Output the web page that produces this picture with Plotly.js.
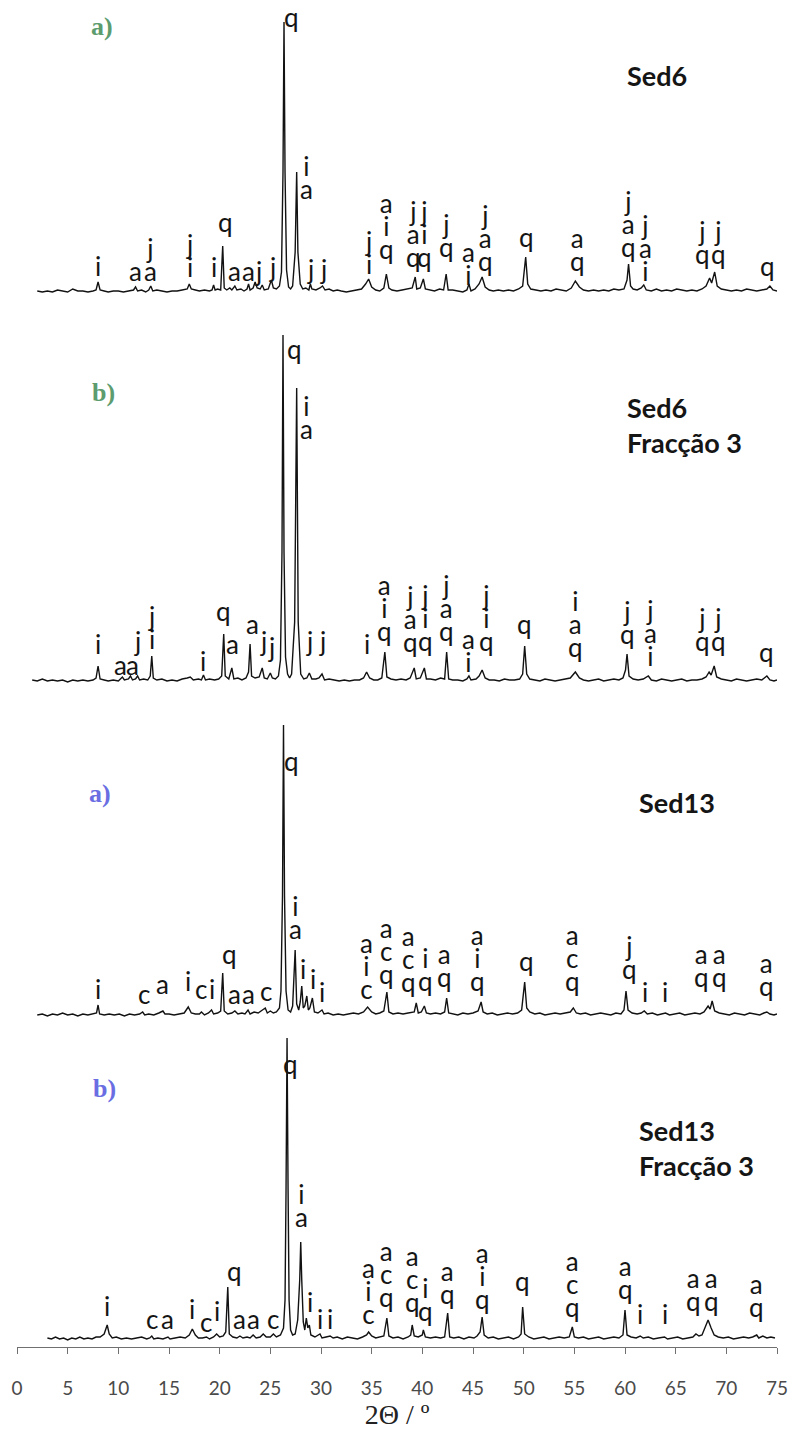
<!DOCTYPE html>
<html>
<head>
<meta charset="utf-8">
<script src="https://cdn.plot.ly/plotly-3.0.1.min.js"></script>
<style>
  html, body { margin: 0; padding: 0; background: #ffffff; }
  #chart { width: 792px; height: 1434px; }
</style>
</head>
<body>
<div id="chart"></div>
<script>
// ---------- Diffractograms: 2θ (degrees) and intensity (a.u.) ----------

// Sed6
const sed6Tt = [
  2.0,2.5,3.0,3.5,4.0,4.5,5.0,5.5,6.0,6.5,7.0,7.5,
  7.8,8.0,8.2,8.6,9.0,9.5,10.0,10.5,11.0,11.5,11.7,11.9,
  12.3,12.7,13.0,13.2,13.4,13.8,14.3,14.8,15.3,15.8,16.3,16.8,
  17.0,17.2,17.6,18.0,18.5,19.0,19.25,19.4,19.55,19.8,20.1,20.3,
  20.45,20.7,21.0,21.2,21.5,21.7,22.1,22.4,22.7,22.85,23.0,23.3,
  23.5,23.7,24.0,24.2,24.4,24.8,25.1,25.3,25.6,25.9,26.1,26.25,
  26.35,26.45,26.6,26.8,27.0,27.2,27.45,27.6,27.72,27.95,28.2,28.5,
  28.8,28.95,29.1,29.5,29.9,30.15,30.4,30.8,31.2,31.6,32.0,32.5,
  33.0,33.5,34.0,34.4,34.7,35.0,35.4,35.8,36.2,36.45,36.7,37.0,
  37.5,38.0,38.5,39.0,39.3,39.45,39.8,40.1,40.3,40.7,41.2,41.7,
  42.1,42.35,42.55,43.0,43.5,44.0,44.4,44.6,44.8,45.2,45.6,45.9,
  46.2,46.6,47.0,47.5,48.0,48.5,49.0,49.5,49.9,50.2,50.4,50.7,
  51.2,51.7,52.2,52.7,53.2,53.7,54.2,54.7,55.1,55.5,55.9,56.4,
  56.9,57.4,57.9,58.4,58.9,59.4,59.9,60.2,60.35,60.55,60.8,61.2,
  61.6,61.85,62.1,62.6,63.1,63.6,64.1,64.6,65.1,65.6,66.1,66.6,
  67.1,67.6,68.0,68.35,68.55,68.85,69.1,69.5,70.0,70.5,71.0,71.5,
  72.0,72.5,73.0,73.5,74.0,74.3,74.6,75.0
];
const sed6I = [
  1,0,1,0,2,1,0,3,1,1,0,1,
  2,10,2,1,0,1,1,0,1,2,5,1,
  2,0,2,6,1,2,1,0,1,1,2,3,
  8,3,2,1,2,1,2,7,2,3,2,46,
  4,2,4,2,6,2,3,1,3,8,2,4,
  10,4,3,7,2,3,12,4,3,6,20,120,
  270,120,22,5,3,6,40,120,40,8,3,4,
  2,8,3,2,4,6,2,3,1,2,1,0,
  1,2,3,8,13,5,2,1,4,18,4,2,
  1,2,3,4,15,3,4,13,3,2,1,3,
  2,18,2,2,1,0,2,8,1,3,8,15,
  5,2,1,2,1,2,1,3,6,35,8,3,
  2,1,2,1,3,2,1,4,11,5,2,1,
  2,1,2,1,3,2,3,12,28,6,3,2,
  4,7,2,1,3,1,2,1,3,2,1,2,
  1,3,6,14,9,20,6,3,2,1,2,1,
  3,2,1,2,3,6,2,1
];

// Sed6, Fracção 3
const sed6fTt = [
  1.5,2.0,2.5,3.0,3.5,4.0,4.5,5.0,5.5,6.0,6.5,7.0,
  7.5,7.8,8.0,8.2,8.6,9.0,9.5,10.0,10.2,10.4,10.6,11.0,
  11.2,11.4,11.7,11.9,12.1,12.5,12.9,13.15,13.3,13.45,13.8,14.3,
  14.8,15.3,15.8,16.3,16.8,17.1,17.4,17.9,18.2,18.4,18.6,19.0,
  19.5,19.9,20.2,20.4,20.55,20.9,21.2,21.4,21.8,22.2,22.6,22.85,
  23.0,23.15,23.5,23.9,24.2,24.4,24.7,25.0,25.2,25.5,25.8,26.0,
  26.15,26.25,26.35,26.5,26.7,26.9,27.1,27.4,27.6,27.75,28.0,28.3,
  28.6,28.85,29.1,29.5,29.8,30.1,30.35,30.8,31.3,31.8,32.3,32.8,
  33.3,33.8,34.2,34.5,34.8,35.2,35.6,36.0,36.3,36.5,36.9,37.4,
  37.9,38.4,38.8,39.2,39.4,39.8,40.2,40.4,40.8,41.3,41.8,42.2,
  42.4,42.6,43.0,43.5,44.0,44.4,44.6,44.8,45.3,45.6,45.9,46.2,
  46.6,47.1,47.6,48.1,48.6,49.1,49.6,49.9,50.1,50.3,50.6,51.1,
  51.6,52.1,52.6,53.1,53.6,54.1,54.6,55.1,55.5,55.9,56.4,56.9,
  57.4,57.9,58.4,58.9,59.4,59.8,60.05,60.2,60.4,60.8,61.3,61.8,
  62.3,62.6,63.1,63.6,64.1,64.6,65.1,65.6,66.1,66.6,67.1,67.6,
  68.0,68.3,68.5,68.8,69.05,69.5,70.0,70.5,71.0,71.5,72.0,72.5,
  73.0,73.5,74.0,74.3,74.7,75.0
];
const sed6fI = [
  2,1,3,1,2,1,2,0,2,1,2,1,
  2,4,16,3,2,1,2,1,3,5,2,3,
  6,2,3,6,2,3,2,6,26,4,2,3,
  1,2,1,3,4,5,2,3,2,7,2,3,
  2,3,6,48,6,3,14,3,4,2,4,10,
  38,6,4,5,14,4,3,9,4,3,6,22,
  130,347,130,25,8,4,8,60,294,60,8,3,
  4,9,3,3,4,8,2,3,2,1,2,1,
  2,2,4,10,4,2,2,4,30,5,3,2,
  3,2,4,14,3,4,14,3,3,2,4,3,
  30,3,2,2,1,3,6,2,3,6,12,4,
  2,2,1,3,2,2,3,8,36,8,3,2,
  1,3,2,1,2,3,4,10,4,2,1,2,
  3,1,2,3,2,4,12,28,6,3,2,3,
  6,2,1,3,2,1,2,3,1,2,2,3,
  5,10,7,16,5,3,2,1,3,2,1,2,
  3,2,6,2,1,2
];

// Sed13
const sed13Tt = [
  2.0,2.5,3.0,3.5,4.0,4.5,5.0,5.5,6.0,6.5,7.0,7.5,
  7.85,8.0,8.15,8.6,9.1,9.6,10.1,10.6,11.1,11.6,12.1,12.4,
  12.6,13.0,13.5,14.0,14.4,14.6,15.0,15.5,16.0,16.5,16.9,17.2,
  17.6,18.0,18.2,18.5,18.9,19.2,19.4,19.8,20.1,20.3,20.45,20.8,
  21.2,21.5,21.8,22.2,22.5,22.8,23.0,23.4,23.8,24.1,24.5,24.7,
  25.0,25.3,25.6,25.9,26.05,26.2,26.3,26.4,26.55,26.75,27.0,27.2,
  27.45,27.6,27.8,27.95,28.1,28.25,28.4,28.6,28.75,28.9,29.15,29.35,
  29.7,30.1,30.3,30.7,31.2,31.7,32.2,32.7,33.2,33.7,34.2,34.6,
  35.0,35.4,35.8,36.2,36.5,36.7,37.1,37.6,38.1,38.6,39.2,39.4,
  39.6,39.9,40.2,40.4,40.8,41.3,41.8,42.2,42.4,42.6,43.0,43.5,
  44.0,44.5,45.0,45.5,45.8,46.0,46.4,46.9,47.4,47.9,48.4,48.9,
  49.4,49.8,50.1,50.3,50.6,51.1,51.6,52.1,52.6,53.1,53.6,54.1,
  54.6,54.9,55.2,55.6,56.1,56.6,57.1,57.6,58.1,58.6,59.1,59.6,
  59.9,60.1,60.3,60.7,61.2,61.6,61.9,62.2,62.7,63.2,63.6,64.0,
  64.4,64.9,65.4,65.9,66.4,66.9,67.4,67.8,68.2,68.4,68.6,68.85,
  69.3,69.8,70.3,70.8,71.3,71.8,72.3,72.8,73.3,73.7,74.0,74.3,
  74.7,75.0
];
const sed13I = [
  1,2,0,2,1,3,1,2,0,2,1,2,
  3,11,2,1,2,1,2,0,2,1,2,4,
  1,2,1,3,5,2,2,1,2,3,9,3,
  2,2,4,1,3,6,2,3,5,43,5,2,
  3,5,2,3,2,6,2,4,3,5,8,3,
  5,3,4,8,25,120,291,120,25,6,4,10,
  66,12,6,14,30,8,10,20,6,8,18,4,
  3,6,2,3,1,2,1,2,3,2,4,9,
  4,2,3,5,24,4,2,3,2,3,4,13,
  3,4,10,3,2,3,2,4,18,3,2,1,
  3,2,3,5,14,4,2,3,1,2,3,2,
  3,6,34,8,4,2,3,1,2,3,2,3,
  4,8,3,2,3,1,2,3,2,1,3,2,
  6,25,6,3,2,3,5,2,3,1,2,3,
  1,2,3,1,2,3,2,4,10,7,15,5,
  3,2,1,3,2,1,3,2,1,3,4,2,
  1,2
];

// Sed13, Fracção 3
const sed13fTt = [
  3.0,3.4,3.8,4.2,4.6,5.0,5.4,5.8,6.2,6.6,7.0,7.4,
  7.8,8.2,8.6,8.9,9.1,9.4,9.8,10.3,10.8,11.3,11.8,12.3,
  12.8,13.1,13.3,13.5,13.9,14.4,14.9,15.1,15.6,16.1,16.6,17.0,
  17.3,17.6,17.9,18.3,18.7,19.0,19.4,19.7,20.0,20.35,20.6,20.8,
  20.95,21.3,21.7,22.0,22.3,22.7,23.0,23.3,23.6,24.0,24.3,24.6,
  25.0,25.3,25.6,26.0,26.3,26.45,26.55,26.65,26.75,26.85,27.0,27.2,
  27.45,27.7,27.9,28.0,28.1,28.25,28.4,28.55,28.7,28.85,29.0,29.4,
  29.9,30.1,30.5,30.9,31.2,31.6,32.1,32.6,33.1,33.6,34.1,34.5,
  34.7,35.0,35.4,35.8,36.2,36.5,36.7,37.1,37.6,38.1,38.6,38.85,
  39.0,39.2,39.6,40.0,40.1,40.3,40.8,41.3,41.8,42.2,42.5,42.7,
  43.1,43.6,44.1,44.6,45.1,45.4,45.7,45.9,46.1,46.5,47.0,47.5,
  48.0,48.5,49.0,49.5,49.75,49.9,50.1,50.5,51.0,51.5,52.0,52.5,
  53.0,53.5,54.0,54.5,54.8,55.0,55.4,55.9,56.4,56.9,57.4,57.9,
  58.4,58.9,59.4,59.8,60.0,60.2,60.6,61.1,61.5,61.8,62.3,62.8,
  63.3,63.9,64.2,64.7,65.2,65.7,66.2,66.7,67.0,67.3,67.6,67.9,
  68.2,68.5,68.8,69.2,69.7,70.2,70.7,71.2,71.7,72.2,72.6,73.0,
  73.2,73.6,74.0,74.4,74.8
];
const sed13fI = [
  2,1,3,1,2,0,2,1,3,1,2,1,
  3,3,6,15,6,2,3,1,2,1,2,3,
  1,2,4,1,2,1,3,1,2,3,2,5,
  11,5,2,2,3,1,3,6,3,4,8,53,
  6,3,2,4,2,3,2,5,2,3,6,3,
  3,6,3,5,12,40,150,302,150,40,10,5,
  6,20,60,98,60,18,10,22,12,15,5,3,
  6,2,3,4,2,3,1,3,2,1,3,5,
  8,4,2,3,4,22,4,2,3,1,3,5,
  15,4,3,5,10,3,2,3,2,3,27,3,
  2,3,1,3,2,4,8,23,5,2,3,1,
  2,3,1,3,6,33,6,3,1,2,3,1,
  2,3,2,3,13,3,2,3,1,2,3,1,
  2,3,2,5,30,5,3,2,4,2,3,1,
  2,3,1,2,3,1,2,3,6,4,5,12,
  20,12,5,3,2,3,1,2,3,2,3,5,
  2,4,2,3,2
];

// ---------- Phase identification tags (letters read top to bottom) ----------
const sed6TagAt  = [8.0,11.7,13.2,17.0,19.4,20.6,21.5,22.8,23.8,25.2,27.1,28.6,28.95,30.2,34.7,36.5,39.1,40.2,42.4,44.6,46.2,50.3,55.3,60.3,62.0,67.6,69.2,74.1];
const sed6Tags   = ['i','a','ja','ji','i','q','a','a','j','j','q','ia','j','j','ji','aiq','jaq','jiq','jq','ai','jaq','q','aq','jaq','jai','jq','jq','q'];

const sed6fTagAt = [8.0,10.2,11.4,11.9,13.3,18.4,20.4,21.3,23.2,24.3,25.1,27.4,28.6,28.9,30.1,34.5,36.3,38.8,40.3,42.4,44.6,46.3,50.1,55.1,60.2,62.5,67.6,69.2,74.0];
const sed6fTags  = ['i','a','a','j','ji','i','q','a','a','j','j','q','ia','j','j','i','aiq','jaq','jiq','jaq','ai','jiq','q','iaq','jq','jai','jq','jq','q'];

const sed13TagAt = [8.0,12.5,14.4,16.9,18.2,19.2,21.0,21.5,22.8,24.6,27.1,27.45,28.2,29.2,30.1,34.5,36.5,38.6,40.3,42.2,45.4,50.3,54.8,60.4,62.0,63.9,67.5,69.3,74.0];
const sed13Tags  = ['i','c','a','i','c','i','q','a','a','c','q','ia','i','i','i','aic','acq','acq','iq','aq','aiq','q','acq','jq','i','i','aq','aq','aq'];

const sed13fTagAt = [8.9,13.3,14.9,17.3,18.7,19.7,21.5,22.0,23.3,25.3,27.0,28.1,28.9,29.9,30.9,34.7,36.5,39.0,40.3,42.5,45.9,49.9,54.8,60.0,61.5,63.9,66.8,68.5,73.0];
const sed13fTags  = ['i','c','a','i','c','i','q','a','a','c','q','ia','i','i','i','aic','acq','acq','iq','aq','aiq','q','acq','aq','i','i','aq','aq','aq'];

const xTicks = [0,5,10,15,20,25,30,35,40,45,50,55,60,65,70,75];

// ---------- Label placement (height of the lowest letter, intensity units) ----------
const sed6TagFloor   = [9,4,4,8,8,53,4,4,4,8,258,86,6,6,11,26,18,18,28,0,14,38,14,28,4,21,21,9];
const sed6fTagFloor  = [21,0,0,24,26,4,54,21,41,24,18,316,236,24,24,21,34,23,24,34,3,24,41,18,31,9,24,24,13];
const sed13TagFloor  = [10,5,15,18,10,10,45,5,5,8,238,70,30,20,7,10,25,17,18,22,18,38,18,30,7,7,22,22,13];
const sed13fTagFloor = [17,4,4,14,1,12,52,4,4,4,259,106,21,4,4,9,26,21,12,29,24,42,16,34,9,9,22,22,16];

// ---------- Page geometry ----------
const W = 792, H = 1434;
const M = { l: 17, r: 15, t: 0, b: 87 };
const PH = H - M.t - M.b;          // plot height in px
const PW = W - M.l - M.r;          // plot width in px

// each strip: baseline row (px from plot top), space below and above the baseline (px)
const strips = [
  { tt: sed6Tt,   I: sed6I,   at: sed6TagAt,   tags: sed6Tags,   floor: sed6TagFloor,   base: 292,  lo: 8, hi: 292 },
  { tt: sed6fTt,  I: sed6fI,  at: sed6fTagAt,  tags: sed6fTags,  floor: sed6fTagFloor,  base: 682,  lo: 8, hi: 365 },
  { tt: sed13Tt,  I: sed13I,  at: sed13TagAt,  tags: sed13Tags,  floor: sed13TagFloor,  base: 1016, lo: 8, hi: 310 },
  { tt: sed13fTt, I: sed13fI, at: sed13fTagAt, tags: sed13fTags, floor: sed13fTagFloor, base: 1340, lo: 7, hi: 310 }
];

// Stacked letters: one text block per tag; the block's own font size sets the
// line pitch (1.3 em) while each glyph is drawn larger inside a span.
const STEP = 23;                       // px between stacked letters
const GLYPH = 26;                      // px letter size
const TAG_FONT = { family: 'Lato, "Open Sans", sans-serif', size: STEP / 1.3, color: '#151515' };
const stackText = s => s.split('').map(ch => '<span style="font-size:' + GLYPH + 'px">' + ch + '</span>').join('<br>');

const traces = [];
const annotations = [];
const layout = {
  width: W, height: H,
  margin: M,
  paper_bgcolor: '#ffffff',
  plot_bgcolor: '#ffffff',
  showlegend: false,
  xaxis: {
    range: [0, 75],
    tickvals: xTicks,
    ticktext: xTicks.map(String),
    ticks: 'outside', ticklen: 6, tickwidth: 1, tickcolor: '#707070',
    showline: true, linecolor: '#707070', linewidth: 1,
    showgrid: false, zeroline: false,
    anchor: 'free', position: 0,
    tickfont: { family: 'Lato, sans-serif', size: 19, color: '#4a4a4a' },
    ticklabelstandoff: 18,
    title: { text: '2Θ / º', font: { family: '"Liberation Serif", "Times New Roman", serif', size: 28, color: '#222222' }, standoff: 6 },
    fixedrange: true,
    automargin: false
  }
};

strips.forEach((s, k) => {
  const ax = k === 0 ? 'y' : 'y' + (k + 1);
  const axKey = k === 0 ? 'yaxis' : 'yaxis' + (k + 1);
  layout[axKey] = {
    domain: [(PH - (s.base + s.lo)) / PH, (PH - (s.base - s.hi)) / PH],
    range: [-s.lo, s.hi],
    visible: false,
    fixedrange: true
  };
  traces.push({
    type: 'scatter', mode: 'lines',
    x: s.tt, y: s.I,
    xaxis: 'x', yaxis: ax,
    line: { color: '#121212', width: 1.4 },
    hoverinfo: 'skip'
  });
  s.at.forEach((x, i) => {
    annotations.push({
      xref: 'x', yref: ax, x: x, y: s.floor[i],
      text: stackText(s.tags[i]), showarrow: false,
      xanchor: 'center', yanchor: 'bottom', align: 'center',
      borderpad: 0,
      font: TAG_FONT
    });
  });
});

// panel letters and sample names
const px = v => (v - M.l) / PW;
const py = v => (PH - (v - M.t)) / PH;
const green = '#5c9c6e', blue = '#6a6ee2';
const panelMarks = [
  { t: 'a)', x: 102, y: 27,   c: green },
  { t: 'b)', x: 103, y: 392,  c: green },
  { t: 'a)', x: 100, y: 793,  c: blue },
  { t: 'b)', x: 104, y: 1088, c: blue }
];
panelMarks.forEach(m => annotations.push({
  xref: 'paper', yref: 'paper', x: px(m.x), y: py(m.y),
  xanchor: 'center', yanchor: 'middle', showarrow: false,
  text: '<b>' + m.t + '</b>',
  font: { family: '"Liberation Serif", "Times New Roman", serif', size: 26, color: m.c }
}));
const sampleNames = [
  { t: 'Sed6', x: 625, y: 75 },
  { t: 'Sed6<br>Fracção 3', x: 625, y: 425 },
  { t: 'Sed13', x: 637, y: 803 },
  { t: 'Sed13<br>Fracção 3', x: 637, y: 1148 }
];
sampleNames.forEach(n => annotations.push({
  xref: 'paper', yref: 'paper', x: px(n.x), y: py(n.y),
  xanchor: 'left', yanchor: 'middle', align: 'left', showarrow: false,
  text: '<b>' + n.t + '</b>',
  font: { family: 'Lato, "Open Sans", sans-serif', size: 27, color: '#151515' }
}));

layout.annotations = annotations;

Plotly.newPlot('chart', traces, layout, { staticPlot: true, displayModeBar: false });
</script>
</body>
</html>
